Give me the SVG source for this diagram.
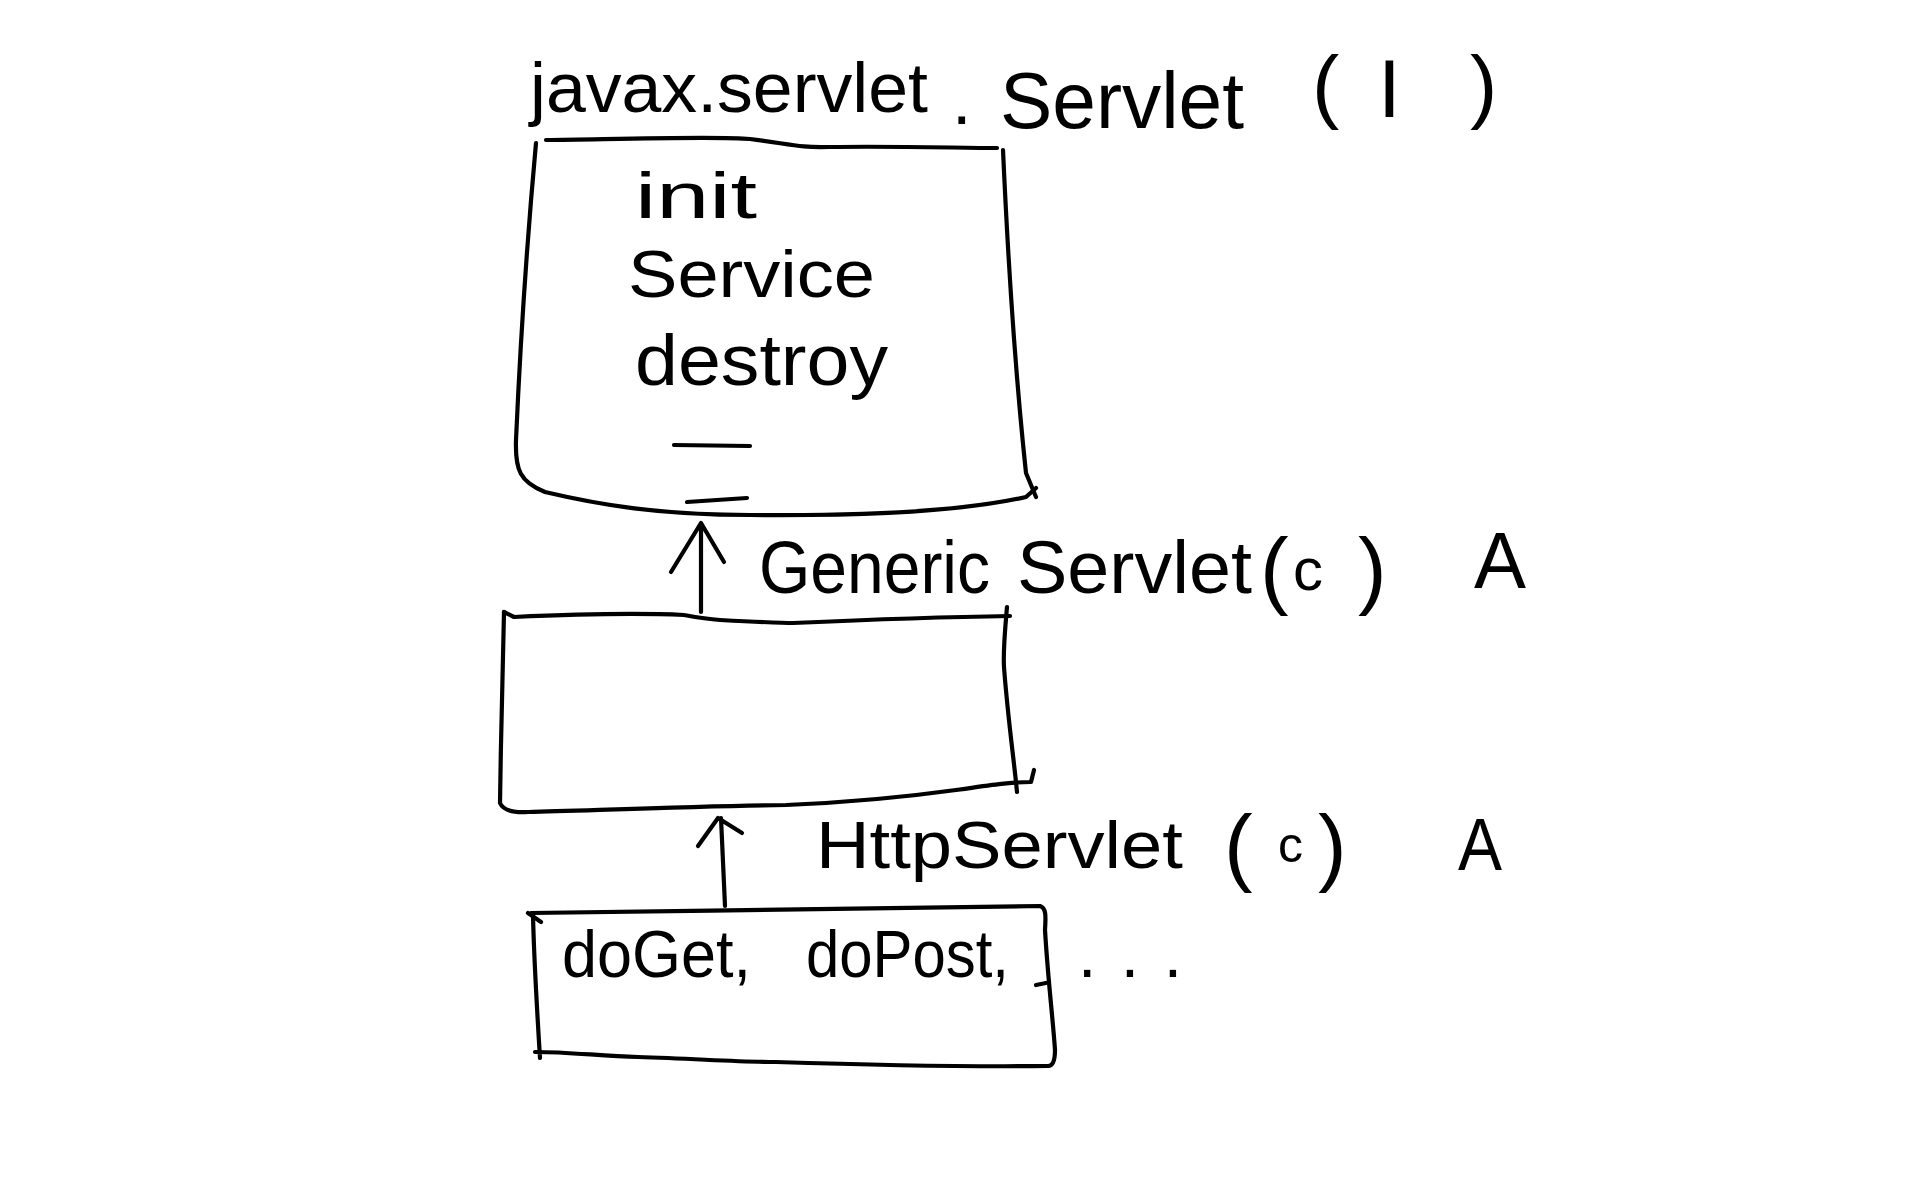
<svg xmlns="http://www.w3.org/2000/svg" width="1920" height="1200" viewBox="0 0 1920 1200">
<style>
.s{fill:none;stroke:#000;stroke-width:4.2;stroke-linecap:round;stroke-linejoin:round}
.t{font-family:"Liberation Sans","DejaVu Sans",sans-serif;fill:#000}
</style>
<rect width="1920" height="1200" fill="#fff"/>
<g id="title">
<text class="t"><tspan x="530" y="112" font-size="70" textLength="398" lengthAdjust="spacingAndGlyphs">javax.servlet</tspan><tspan x="952" y="124" font-size="70">.</tspan><tspan x="1000" y="128" font-size="80" textLength="244" lengthAdjust="spacingAndGlyphs">Servlet</tspan><tspan x="1312" y="113" font-size="82">(</tspan><tspan x="1378" y="117" font-size="82">I</tspan><tspan x="1470" y="113" font-size="82">)</tspan></text>
</g>
<g id="servlet-box">
<path class="s" d="M546,140 C620,139 720,136 750,139 C790,144 800,148 829,147 C900,146 960,148 997,148"/>
<path class="s" d="M536,143 C528,230 520,350 516,440 C515,470 520,482 545,492 C600,505 660,515 750,515 C850,516 960,512 1026,497 L1036,488"/>
<path class="s" d="M1003,150 C1008,260 1016,380 1026,473 L1036,497"/>
<text class="t" x="635" y="218" font-size="64" textLength="122" lengthAdjust="spacingAndGlyphs">init</text>
<text class="t" x="628" y="297" font-size="66" textLength="247" lengthAdjust="spacingAndGlyphs">Service</text>
<text class="t" x="635" y="385" font-size="72" textLength="253" lengthAdjust="spacingAndGlyphs">destroy</text>
<path class="s" d="M674,445 L750,446"/>
<path class="s" d="M687,502 L747,498"/>
</g>
<g id="generic-servlet">
<path class="s" d="M504,612 L514,617 C580,614 640,613 684,615 C700,618 705,619 720,620 C760,622 780,623 793,623 C860,620 940,617 1010,616"/>
<path class="s" d="M504,612 C502,680 501,740 500,803 C503,810 512,813 528,812 C600,810 700,806 786,805 C860,802 920,795 956,790 C990,785 1010,782 1031,782 L1034,770"/>
<path class="s" d="M1007,607 C1005,630 1003,650 1004,667 C1008,720 1014,760 1017,792"/>
<text class="t" y="593"><tspan x="759" font-size="74" textLength="231" lengthAdjust="spacingAndGlyphs">Generic</tspan><tspan x="1017" font-size="74" textLength="235" lengthAdjust="spacingAndGlyphs">Servlet</tspan><tspan x="1260" y="598" font-size="86">(</tspan><tspan x="1293" y="590" font-size="60">c</tspan><tspan x="1358" y="598" font-size="86">)</tspan></text>
<text class="t" x="1474" y="588" font-size="80" textLength="52" lengthAdjust="spacingAndGlyphs">A</text>
</g>
<g id="http-servlet">
<path class="s" d="M528,913 L541,922 M531,913 C700,911 900,908 1040,906 C1046,908 1046,915 1045,930 C1048,980 1053,1020 1055,1050 C1055,1062 1052,1066 1048,1066"/>
<path class="s" d="M533,915 C534,960 537,1010 540,1058 M535,1052 C570,1052 600,1056 638,1057 C700,1059 740,1062 776,1062 C870,1065 960,1067 1048,1066"/>
<path class="s" d="M1036,985 L1046,983"/>
<text class="t" y="868"><tspan x="816" font-size="66" textLength="367" lengthAdjust="spacingAndGlyphs">HttpServlet</tspan><tspan x="1224" y="875" font-size="86">(</tspan><tspan x="1278" y="862" font-size="50">c</tspan><tspan x="1318" y="875" font-size="86">)</tspan></text>
<text class="t" x="1458" y="870" font-size="74" textLength="44" lengthAdjust="spacingAndGlyphs">A</text>
<text class="t" y="977"><tspan x="562" font-size="66" textLength="189" lengthAdjust="spacingAndGlyphs">doGet,</tspan><tspan x="806" font-size="66" textLength="203" lengthAdjust="spacingAndGlyphs">doPost,</tspan><tspan x="1078" font-size="66" textLength="104" lengthAdjust="spacing">...</tspan></text>
</g>
<g id="connectors">
<path class="s" d="M701,612 L701,523 M671,572 L701,523 L724,562"/>
<path class="s" d="M725,906 L721,818 M698,846 L718,818 L742,833"/>
</g>
</svg>
